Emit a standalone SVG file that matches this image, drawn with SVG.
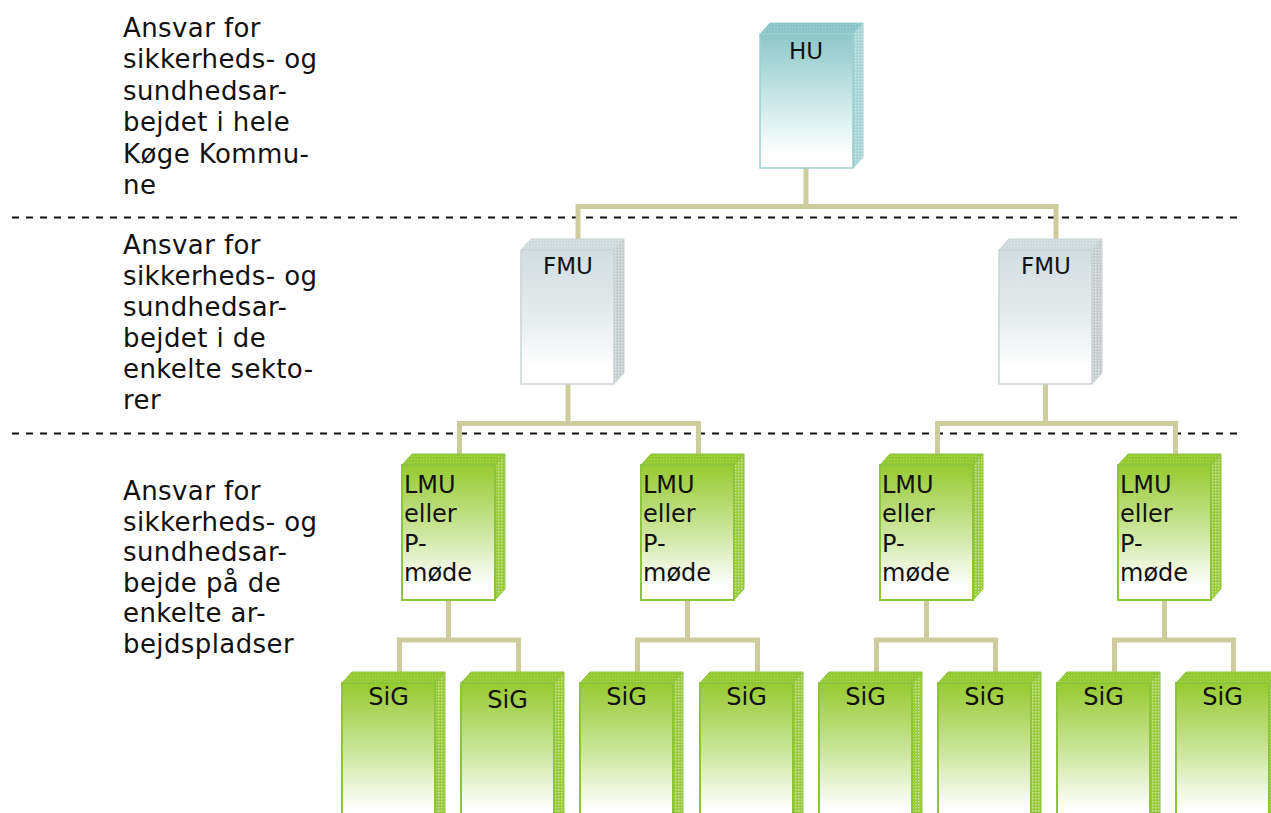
<svg xmlns="http://www.w3.org/2000/svg" width="1271" height="813" viewBox="0 0 1271 813">
<defs>
<style>
.lbl{font-family:"DejaVu Sans","Verdana",sans-serif;font-size:26px;fill:#111;letter-spacing:0.4px}
.nt{font-family:"DejaVu Sans","Verdana",sans-serif;font-size:23px;fill:#111}
.nl{font-family:"DejaVu Sans","Verdana",sans-serif;font-size:24px;fill:#111}
.conn{fill:none;stroke:#cdcc9d;stroke-width:5;stroke-linejoin:miter}
.dash{stroke:#111;stroke-width:2;stroke-dasharray:7 7}
.hu .front{fill:url(#gHU);stroke:#9dd0d0;stroke-width:1.5}
.hu .top{fill:url(#pHUt);stroke:#9dd0d0;stroke-width:1}
.hu .side{fill:url(#pHUs);stroke:#9dd0d0;stroke-width:1}
.fmu .front{fill:url(#gFMU);stroke:#c9d3d6;stroke-width:1.5}
.fmu .top{fill:url(#pFMt);stroke:#c9d3d6;stroke-width:1}
.fmu .side{fill:url(#pFMs);stroke:#c9d3d6;stroke-width:1}
.grn .front{fill:url(#gG);stroke:#8cc43c;stroke-width:2}
.grn .top{fill:url(#pGt);stroke:#8cc43c;stroke-width:1}
.grn .side{fill:url(#pGs);stroke:#8cc43c;stroke-width:1}
</style>
<linearGradient id="gHU" x1="0" y1="0" x2="0" y2="1">
<stop offset="0" stop-color="#8dc7c7"/><stop offset="0.55" stop-color="#d2ebeb"/><stop offset="0.9" stop-color="#ffffff"/>
</linearGradient>
<linearGradient id="gFMU" x1="0" y1="0" x2="0" y2="1">
<stop offset="0" stop-color="#d2dcdf"/><stop offset="0.55" stop-color="#e9eef0"/><stop offset="0.9" stop-color="#ffffff"/>
</linearGradient>
<linearGradient id="gG" x1="0" y1="0" x2="0" y2="1">
<stop offset="0" stop-color="#96ca30"/><stop offset="0.5" stop-color="#cde69e"/><stop offset="0.9" stop-color="#ffffff"/>
</linearGradient>
<pattern id="pHUt" width="3" height="3" patternUnits="userSpaceOnUse"><rect width="3" height="3" fill="#8cc5c5"/><rect width="1" height="1" fill="#a8d6d6"/></pattern>
<pattern id="pHUs" width="3" height="3" patternUnits="userSpaceOnUse"><rect width="3" height="3" fill="#a4d2d2"/><rect width="1.5" height="1.5" fill="#d6ecec"/></pattern>
<pattern id="pFMt" width="3" height="3" patternUnits="userSpaceOnUse"><rect width="3" height="3" fill="#d0d9dc"/><rect width="1" height="1" fill="#e3e9ea"/></pattern>
<pattern id="pFMs" width="3" height="3" patternUnits="userSpaceOnUse"><rect width="3" height="3" fill="#c4ccce"/><rect width="1.5" height="1.5" fill="#e6eaeb"/></pattern>
<pattern id="pGt" width="3" height="3" patternUnits="userSpaceOnUse"><rect width="3" height="3" fill="#94c932"/><rect width="1" height="1" fill="#b3d870"/></pattern>
<pattern id="pGs" width="3" height="3" patternUnits="userSpaceOnUse"><rect width="3" height="3" fill="#98ca38"/><rect width="1.5" height="1.5" fill="#cce5a0"/></pattern>
</defs>
<rect width="1271" height="813" fill="#ffffff"/>

<g id="levels">
<line class="dash" x1="12" y1="217.5" x2="1240" y2="217.5"/>
<line class="dash" x1="12" y1="433.5" x2="1240" y2="433.5"/>
</g>

<g id="labels">
<text class="lbl" x="123" y="36.5">Ansvar for</text>
<text class="lbl" x="123" y="68">sikkerheds- og</text>
<text class="lbl" x="123" y="99.5">sundhedsar-</text>
<text class="lbl" x="123" y="131">bejdet i hele</text>
<text class="lbl" x="123" y="162.5">Køge Kommu-</text>
<text class="lbl" x="123" y="194">ne</text>
<text class="lbl" x="123" y="253.5">Ansvar for</text>
<text class="lbl" x="123" y="284.5">sikkerheds- og</text>
<text class="lbl" x="123" y="315.5">sundhedsar-</text>
<text class="lbl" x="123" y="346.5">bejdet i de</text>
<text class="lbl" x="123" y="377.5">enkelte sekto-</text>
<text class="lbl" x="123" y="408.5">rer</text>
<text class="lbl" x="123" y="500">Ansvar for</text>
<text class="lbl" x="123" y="530.6">sikkerheds- og</text>
<text class="lbl" x="123" y="561.2">sundhedsar-</text>
<text class="lbl" x="123" y="591.8">bejde på de</text>
<text class="lbl" x="123" y="622.4">enkelte ar-</text>
<text class="lbl" x="123" y="653">bejdspladser</text>
</g>

<g id="connectors">
<path class="conn" d="M578 245 V206.5 H1056 V245 M806 168 V206.5"/>
<path class="conn" d="M459.5 460 V423.5 H698.5 V460 M568 384 V423.5"/>
<path class="conn" d="M937.5 460 V423.5 H1175.5 V460 M1045.5 384 V423.5"/>
<path class="conn" d="M399.5 678 V640 H518.5 V678 M448.5 600 V640"/>
<path class="conn" d="M637.5 678 V640 H757.5 V678 M687.5 600 V640"/>
<path class="conn" d="M876.5 678 V640 H995.5 V678 M926.5 600 V640"/>
<path class="conn" d="M1114.5 678 V640 H1233.5 V678 M1164.5 600 V640"/>
</g>

<g id="hu" class="hu">
<polygon class="top" points="760,34 770,23 863,23 853,34"/>
<polygon class="side" points="853,34 863,23 863,157 853,168"/>
<rect class="front" x="760" y="34" width="93" height="134"/>
<text class="nt" x="806" y="59" text-anchor="middle">HU</text>
</g>

<g id="fmu1" class="fmu">
<polygon class="top" points="521,250 531,239 624,239 614,250"/>
<polygon class="side" points="614,250 624,239 624,373 614,384"/>
<rect class="front" x="521" y="250" width="93" height="134"/>
<text class="nt" x="568" y="274" text-anchor="middle">FMU</text>
</g>
<g id="fmu2" class="fmu">
<polygon class="top" points="999,250 1009,239 1102,239 1092,250"/>
<polygon class="side" points="1092,250 1102,239 1102,373 1092,384"/>
<rect class="front" x="999" y="250" width="93" height="134"/>
<text class="nt" x="1046" y="274" text-anchor="middle">FMU</text>
</g>

<g id="lmu1" class="grn">
<polygon class="top" points="402,465 412,454 505,454 495,465"/>
<polygon class="side" points="495,465 505,454 505,589 495,600"/>
<rect class="front" x="402" y="465" width="93" height="135"/>
<text class="nl" x="404" y="492.5">LMU</text><text class="nl" x="404" y="522">eller</text><text class="nl" x="404" y="551.5">P-</text><text class="nl" x="404" y="581">møde</text>
</g>
<g id="lmu2" class="grn">
<polygon class="top" points="641,465 651,454 744,454 734,465"/>
<polygon class="side" points="734,465 744,454 744,589 734,600"/>
<rect class="front" x="641" y="465" width="93" height="135"/>
<text class="nl" x="643" y="492.5">LMU</text><text class="nl" x="643" y="522">eller</text><text class="nl" x="643" y="551.5">P-</text><text class="nl" x="643" y="581">møde</text>
</g>
<g id="lmu3" class="grn">
<polygon class="top" points="880,465 890,454 983,454 973,465"/>
<polygon class="side" points="973,465 983,454 983,589 973,600"/>
<rect class="front" x="880" y="465" width="93" height="135"/>
<text class="nl" x="882" y="492.5">LMU</text><text class="nl" x="882" y="522">eller</text><text class="nl" x="882" y="551.5">P-</text><text class="nl" x="882" y="581">møde</text>
</g>
<g id="lmu4" class="grn">
<polygon class="top" points="1118,465 1128,454 1221,454 1211,465"/>
<polygon class="side" points="1211,465 1221,454 1221,589 1211,600"/>
<rect class="front" x="1118" y="465" width="93" height="135"/>
<text class="nl" x="1120" y="492.5">LMU</text><text class="nl" x="1120" y="522">eller</text><text class="nl" x="1120" y="551.5">P-</text><text class="nl" x="1120" y="581">møde</text>
</g>

<g id="sig1" class="grn">
<polygon class="top" points="342,683 352,672 445,672 435,683"/>
<polygon class="side" points="435,683 445,672 445,820 435,820"/>
<rect class="front" x="342" y="683" width="93" height="140"/>
<text class="nl" x="388.5" y="705" text-anchor="middle">SiG</text>
</g>
<g id="sig2" class="grn">
<polygon class="top" points="461,683 471,672 564,672 554,683"/>
<polygon class="side" points="554,683 564,672 564,820 554,820"/>
<rect class="front" x="461" y="683" width="93" height="140"/>
<text class="nl" x="507.5" y="708" text-anchor="middle">SiG</text>
</g>
<g id="sig3" class="grn">
<polygon class="top" points="580,683 590,672 683,672 673,683"/>
<polygon class="side" points="673,683 683,672 683,820 673,820"/>
<rect class="front" x="580" y="683" width="93" height="140"/>
<text class="nl" x="626.5" y="705" text-anchor="middle">SiG</text>
</g>
<g id="sig4" class="grn">
<polygon class="top" points="700,683 710,672 803,672 793,683"/>
<polygon class="side" points="793,683 803,672 803,820 793,820"/>
<rect class="front" x="700" y="683" width="93" height="140"/>
<text class="nl" x="746.5" y="705" text-anchor="middle">SiG</text>
</g>
<g id="sig5" class="grn">
<polygon class="top" points="819,683 829,672 922,672 912,683"/>
<polygon class="side" points="912,683 922,672 922,820 912,820"/>
<rect class="front" x="819" y="683" width="93" height="140"/>
<text class="nl" x="865.5" y="705" text-anchor="middle">SiG</text>
</g>
<g id="sig6" class="grn">
<polygon class="top" points="938,683 948,672 1041,672 1031,683"/>
<polygon class="side" points="1031,683 1041,672 1041,820 1031,820"/>
<rect class="front" x="938" y="683" width="93" height="140"/>
<text class="nl" x="984.5" y="705" text-anchor="middle">SiG</text>
</g>
<g id="sig7" class="grn">
<polygon class="top" points="1057,683 1067,672 1160,672 1150,683"/>
<polygon class="side" points="1150,683 1160,672 1160,820 1150,820"/>
<rect class="front" x="1057" y="683" width="93" height="140"/>
<text class="nl" x="1103.5" y="705" text-anchor="middle">SiG</text>
</g>
<g id="sig8" class="grn">
<polygon class="top" points="1176,683 1186,672 1279,672 1269,683"/>
<polygon class="side" points="1269,683 1279,672 1279,820 1269,820"/>
<rect class="front" x="1176" y="683" width="93" height="140"/>
<text class="nl" x="1222.5" y="705" text-anchor="middle">SiG</text>
</g>
</svg>
